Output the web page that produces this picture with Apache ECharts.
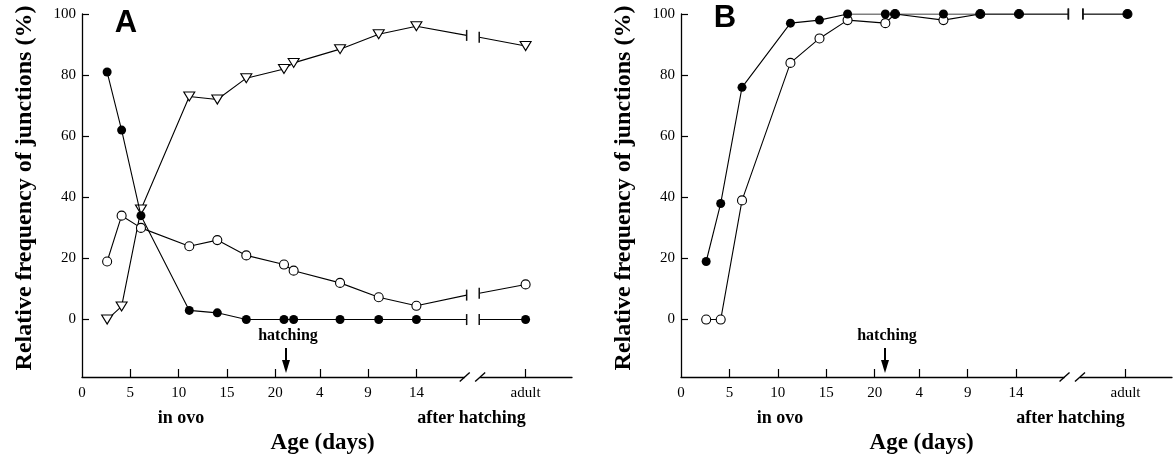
<!DOCTYPE html>
<html>
<head>
<meta charset="utf-8">
<script src="https://cdn.jsdelivr.net/npm/echarts@6/dist/echarts.min.js"></script>
<style>
  html, body { margin: 0; background: #fff; }
  #chart { width: 1175px; height: 460px; }
</style>
</head>
<body>
<div id="chart"></div>
<script>
  // x is in "axis days": in ovo 0..21, after hatching shifted past 20.6, adult after the break
  var tickPos = [0, 5, 10, 15, 20, 24.6, 29.6, 34.6, 45.9]
  var tickLabels = ['0', '5', '10', '15', '20', '4', '9', '14', 'adult']
  var yTicks = [0, 20, 40, 60, 80, 100]

  // panel A
  var daysA = [2.6, 4.1, 6.1, 11.1, 14.0, 17.0, 20.9, 21.9, 26.7, 30.7, 34.6, 45.9]
  var filledA = [81, 62, 34, 3, 2.2, 0, 0, 0, 0, 0, 0, 0]
  var openA = [19, 34, 30, 24, 26, 21, 18, 16, 12, 7.3, 4.5, 11.5]
  var triA = [0, 4.3, 36, 73, 72, 79, 82, 84, 88.5, 93.4, 96, 89.5]
  var breakA = [39.8, 41.1]
  var breakFilledA = [0, 0]
  var breakOpenA = [8, 8.6]
  var breakTriA = [93, 92.4]

  // panel B
  var daysB = [2.6, 4.1, 6.3, 11.3, 14.3, 17.2, 21.1, 22.1, 27.1, 30.9, 34.9, 46.1]
  var filledB = [19, 38, 76, 97, 98, 100, 100, 100, 100, 100, 100, 100]
  var openB = [0, 0, 39, 84, 92, 98, 97, 100, 98, 100, 100, 100]
  var breakB = [40.0, 41.5]
  var breakFilledB = [100, 100]
  var breakOpenB = [100, 100]

  var axisBreak = [39.6, 41.2]
  var hatchDay = 21
  var yMin = -18.8
  var xMax = 50.7

  var FONT = 'Liberation Serif'
  var dx = 599 // panel B offset

  function buildData (days, vals, brk, brkVals) {
    var out = []
    for (var i = 0; i < days.length - 1; i++) out.push([days[i], vals[i]])
    var bar = {symbol: 'rect', symbolSize: [1.5, 11], symbolRotate: 0, itemStyle: {color: '#111', borderWidth: 0}}
    out.push(Object.assign({value: [brk[0], brkVals[0]]}, bar))
    out.push([(brk[0] + brk[1]) / 2, '-'])
    out.push(Object.assign({value: [brk[1], brkVals[1]]}, bar))
    out.push([days[days.length - 1], vals[vals.length - 1]])
    return out
  }

  function lineSeries (idx, data, kind) {
    var s = {
      type: 'line',
      xAxisIndex: idx,
      yAxisIndex: idx,
      data: data,
      connectNulls: false,
      symbolSize: 9,
      symbol: 'circle',
      lineStyle: {color: '#000', width: 1.1},
      itemStyle: {color: '#fff', borderColor: '#000', borderWidth: 1.1},
      z: 2
    }
    if (kind === 'filled') {
      s.itemStyle = {color: '#000', borderColor: '#000', borderWidth: 0}
      s.z = 3
    }
    if (kind === 'tri') {
      s.symbol = 'triangle'
      s.symbolRotate = 180
      s.symbolSize = [11, 9]
    }
    return s
  }

  function xAxisOf (idx) {
    return {
      type: 'value', gridIndex: idx, min: 0, max: xMax,
      axisLine: {onZero: false, lineStyle: {color: '#000', width: 1.3}},
      axisTick: {inside: true, length: 8, customValues: tickPos.slice(1), lineStyle: {color: '#000', width: 1.2}},
      axisLabel: {
        customValues: tickPos,
        margin: 9,
        color: '#000',
        fontFamily: FONT,
        fontSize: 15,
        formatter: function (v) {
          for (var i = 0; i < tickPos.length; i++) {
            if (Math.abs(tickPos[i] - v) < 1e-6) return tickLabels[i]
          }
          return ''
        }
      },
      splitLine: {show: false}
    }
  }

  function yAxisOf (idx) {
    return {
      type: 'value', gridIndex: idx, min: yMin, max: 100,
      axisLine: {show: true, onZero: false, lineStyle: {color: '#000', width: 1.3}},
      axisTick: {show: true, inside: true, length: 7, customValues: yTicks, lineStyle: {color: '#000', width: 1.2}},
      axisLabel: {customValues: yTicks, margin: 6, color: '#000', fontFamily: FONT, fontSize: 15},
      splitLine: {show: false}
    }
  }

  function txt (x, y, text, font, rot) {
    return {
      type: 'text', x: x, y: y, rotation: rot || 0, silent: true,
      style: {text: text, font: font, fill: '#000', textAlign: 'center', textVerticalAlign: 'middle'}
    }
  }

  function panelTexts (off, letter, letterY) {
    return [
      txt(126 + off, letterY, letter, 'bold 31px "Liberation Sans"'),
      txt(288 + off, 336, 'hatching', 'bold 16px "' + FONT + '"'),
      {type: 'line', silent: true, shape: {x1: 286 + off, y1: 348, x2: 286 + off, y2: 362}, style: {stroke: '#000', lineWidth: 2}},
      {type: 'polygon', silent: true, shape: {points: [[282 + off, 360], [290 + off, 360], [286 + off, 373]]}, style: {fill: '#000'}},
      txt(181 + off, 418, 'in ovo', 'bold 18px "' + FONT + '"'),
      txt(471.5 + off, 418, 'after hatching', 'bold 18px "' + FONT + '"'),
      txt(322.6 + off, 443, 'Age (days)', 'bold 23px "' + FONT + '"'),
      txt(25 + off, 188, 'Relative frequency of junctions (%)', 'bold 24px "' + FONT + '"', Math.PI / 2)
    ]
  }

  var chart = echarts.init(document.getElementById('chart'))
  var option = {
    animation: false,
    backgroundColor: '#fff',
    grid: [
      {left: 82, top: 14, width: 490, height: 363},
      {left: 82 + dx, top: 14, width: 491, height: 363}
    ],
    xAxis: [xAxisOf(0), xAxisOf(1)],
    yAxis: [yAxisOf(0), yAxisOf(1)],
    series: [
      lineSeries(0, buildData(daysA, openA, breakA, breakOpenA), 'open'),
      lineSeries(0, buildData(daysA, triA, breakA, breakTriA), 'tri'),
      lineSeries(0, buildData(daysA, filledA, breakA, breakFilledA), 'filled'),
      lineSeries(1, buildData(daysB, openB, breakB, breakOpenB), 'open'),
      lineSeries(1, buildData(daysB, filledB, breakB, breakFilledB), 'filled')
    ]
  }
  chart.setOption(option)

  // axis break marks (white gap + two slashes) and panel texts
  var graphics = panelTexts(0, 'A', 23.5).concat(panelTexts(dx, 'B', 18))
  for (var g = 0; g < 2; g++) {
    var p0 = chart.convertToPixel({xAxisIndex: g, yAxisIndex: g}, [axisBreak[0], yMin])
    var p1 = chart.convertToPixel({xAxisIndex: g, yAxisIndex: g}, [axisBreak[1], yMin])
    graphics.push({type: 'rect', silent: true, z: 10, shape: {x: p0[0], y: p0[1] - 3, width: p1[0] - p0[0], height: 6}, style: {fill: '#fff'}})
    ;[p0, p1].forEach(function (p) {
      graphics.push({type: 'line', silent: true, z: 11, shape: {x1: p[0] - 5, y1: p[1] + 4.5, x2: p[0] + 5, y2: p[1] - 4.5}, style: {stroke: '#000', lineWidth: 1.4}})
    })
  }
  chart.setOption({graphic: graphics})
</script>
</body>
</html>
